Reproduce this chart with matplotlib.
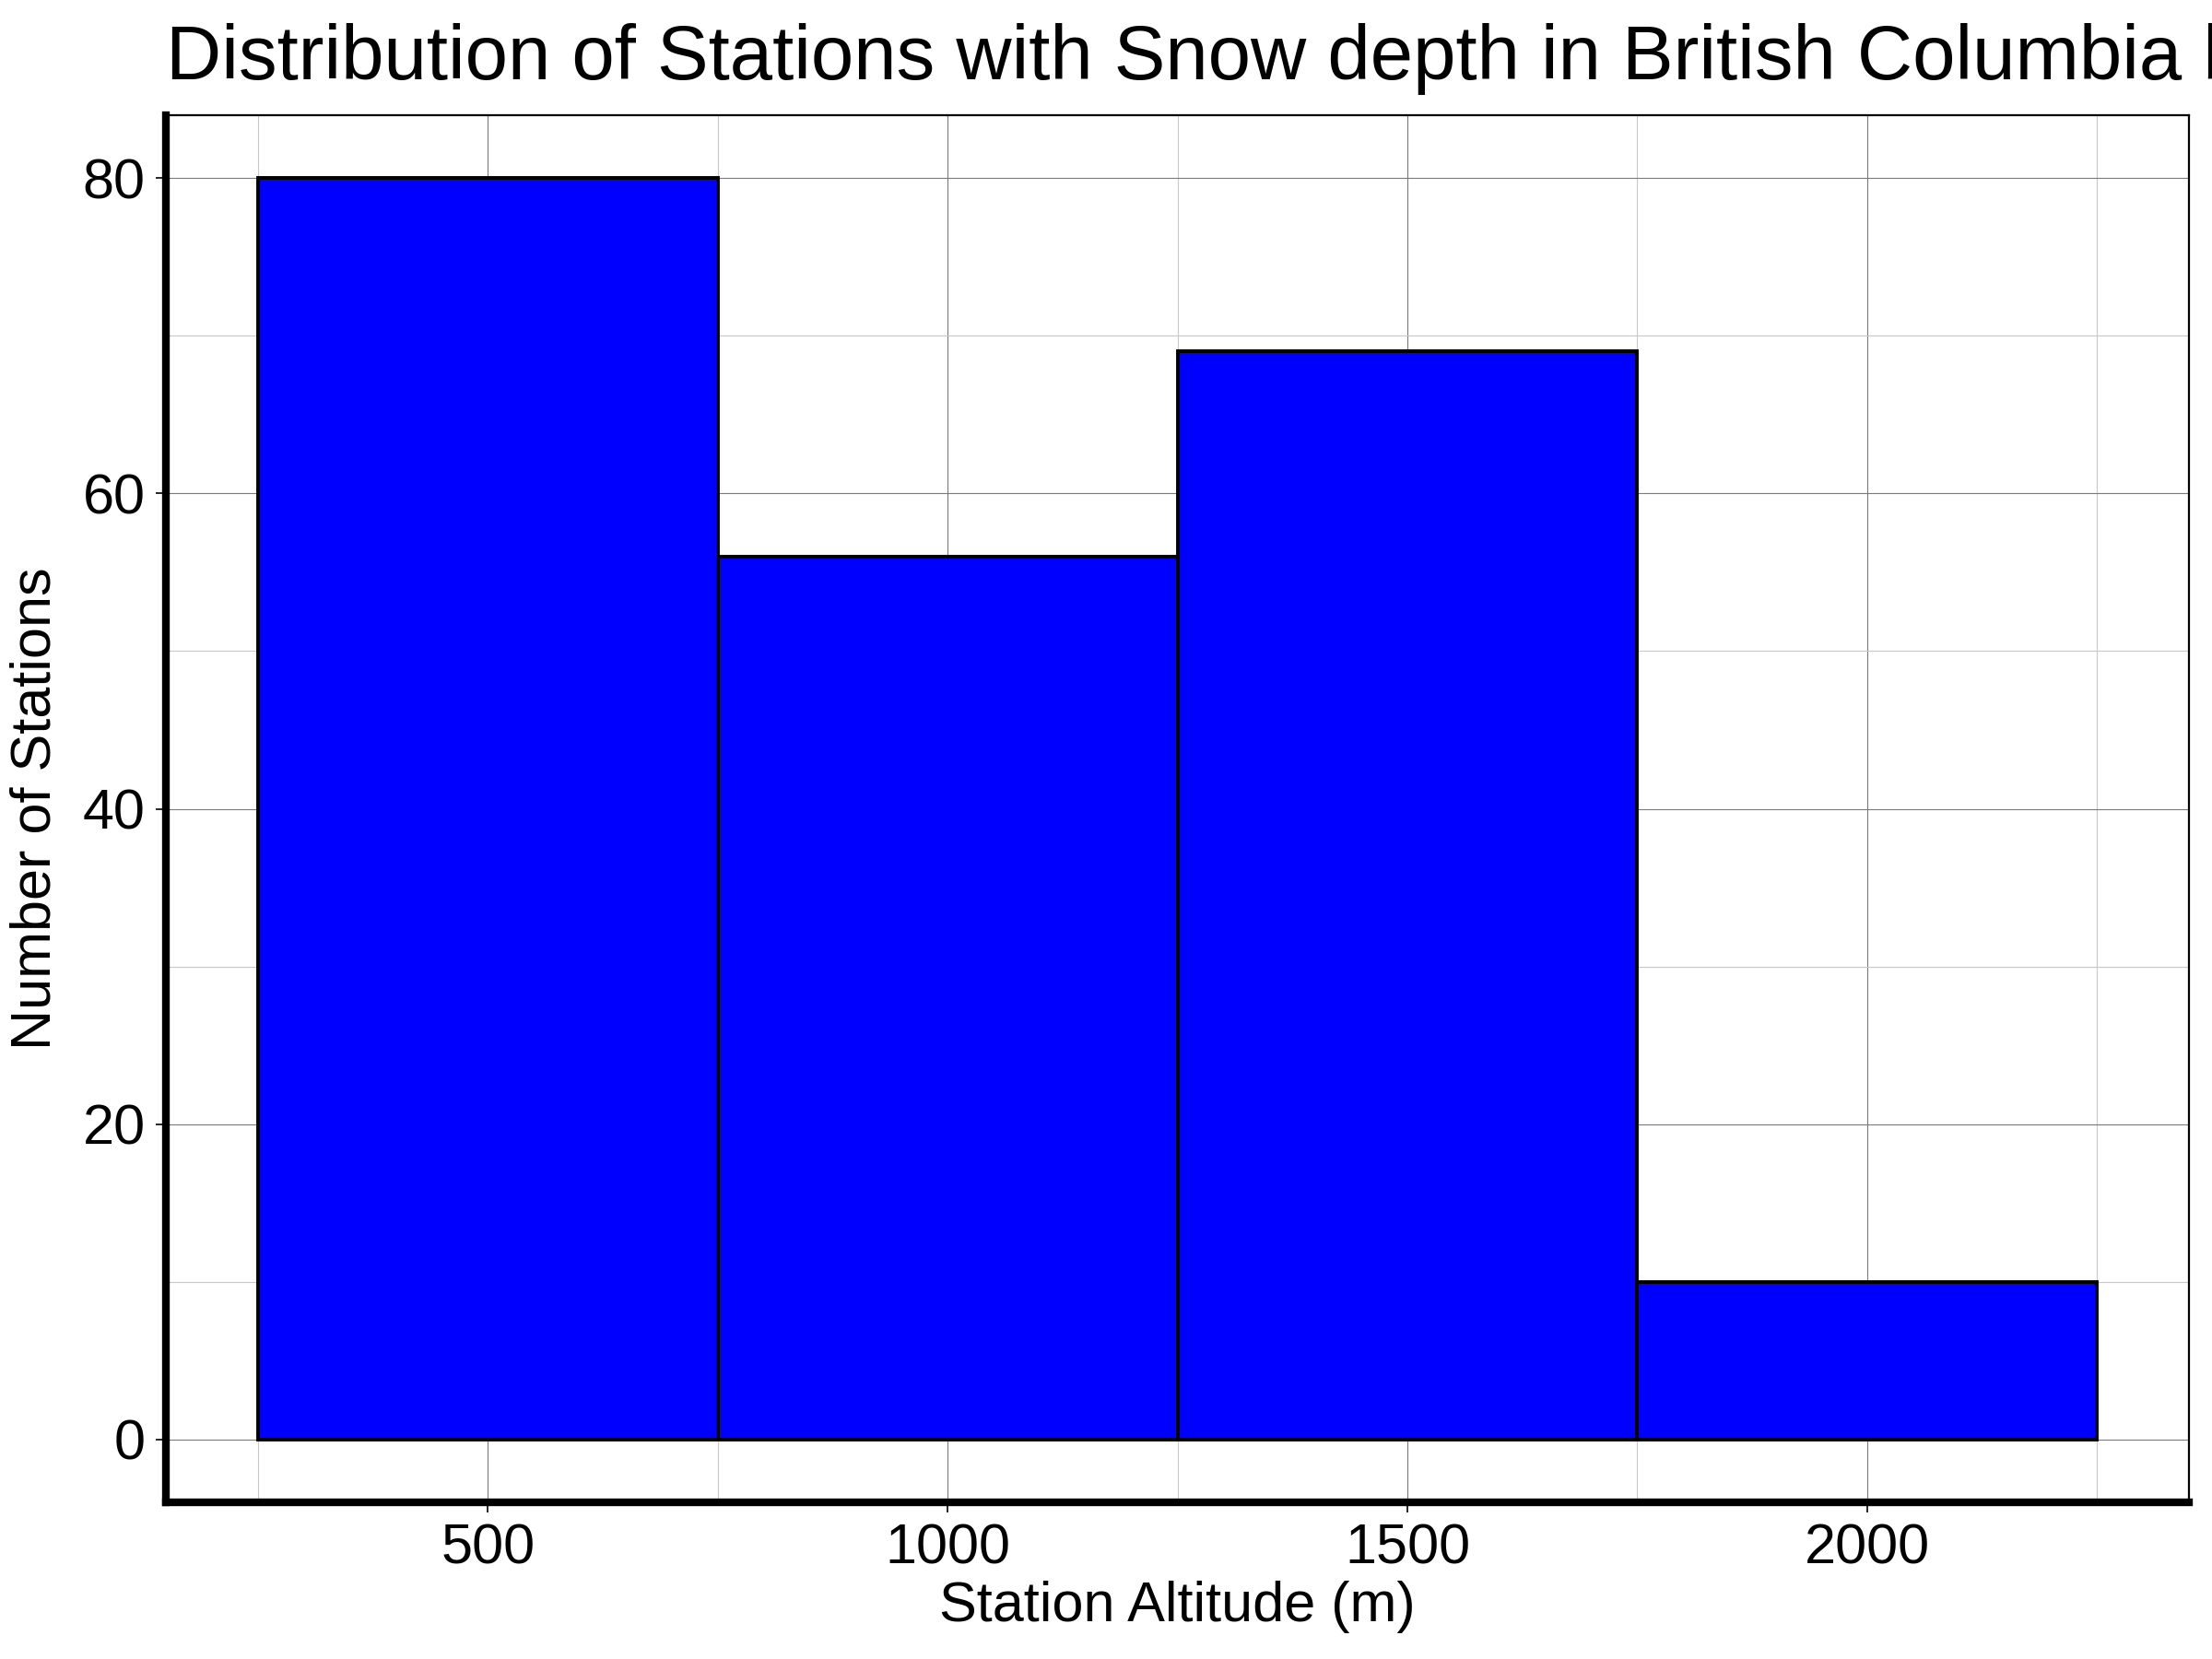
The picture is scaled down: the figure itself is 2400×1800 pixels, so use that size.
#!/usr/bin/env python3
"""Histogram of BC snow-depth stations by altitude."""

import matplotlib

matplotlib.use("Agg")

import matplotlib.pyplot as plt
import numpy as np
from matplotlib.ticker import MultipleLocator

BIN_EDGES = [250, 750, 1250, 1750, 2250]
STATION_COUNTS = [80, 56, 69, 10]
X_TICKS = [500, 1000, 1500, 2000]
Y_TICKS = [0, 20, 40, 60, 80]

# the reference title runs past the right edge of the figure
TITLE = "Distribution of Stations with Snow depth in British Columbia by Altitude"


def main() -> None:
    plt.rcParams["font.family"] = ["Liberation Sans", "DejaVu Sans"]
    fig = plt.figure(figsize=(12, 9), dpi=200)
    ax = fig.add_axes([0.075, 0.0944, 0.9146, 0.8362])
    ax.use_sticky_edges = False

    edges = np.array(BIN_EDGES, dtype=float)
    ax.bar(edges[:-1], STATION_COUNTS, width=np.diff(edges), align="edge",
           color="#0000ff", edgecolor="black", linewidth=1.4, zorder=2)
    ax.margins(0.05)

    ax.set_xticks(X_TICKS)
    ax.set_yticks(Y_TICKS)
    ax.xaxis.set_minor_locator(MultipleLocator(500, offset=250))
    ax.yaxis.set_minor_locator(MultipleLocator(20, offset=10))
    ax.set_axisbelow(True)
    ax.grid(which="major", color="#7a7a7a", linewidth=0.4)
    ax.grid(which="minor", color="#c8c8c8", linewidth=0.4)

    ax.tick_params(which="major", direction="out", length=4, width=0.6,
                   labelsize=22, pad=4, color="black")
    ax.tick_params(which="minor", length=0)

    for side in ("left", "bottom"):
        ax.spines[side].set_linewidth(3)
    for side in ("top", "right"):
        ax.spines[side].set_linewidth(0.8)

    ax.set_xlabel("Station Altitude (m)", fontsize=22, labelpad=2)
    ax.set_ylabel("Number of Stations", fontsize=22, labelpad=8)
    ax.set_title(TITLE, fontsize=30, loc="left", pad=14)

    fig.savefig("out.png", dpi=200)
    plt.close(fig)


if __name__ == "__main__":
    main()
